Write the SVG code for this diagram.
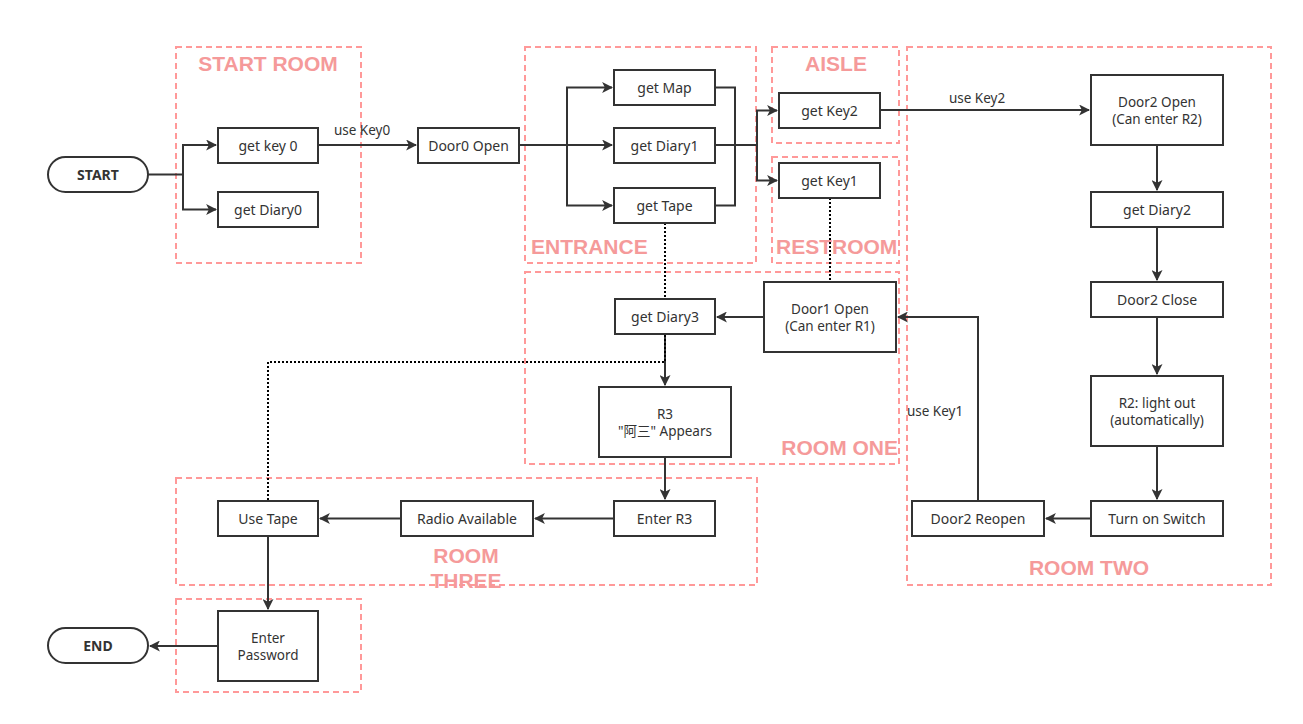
<svg xmlns="http://www.w3.org/2000/svg" width="1303" height="724" viewBox="0 0 1303 724">
<defs>
<style>
.room{fill:none;stroke:#ff9999;stroke-width:2;stroke-dasharray:6 4}
.rl{font-family:"Liberation Sans","Noto Sans",sans-serif;font-weight:bold;font-size:21px;fill:#f59a9a}
.nd{fill:#fff;stroke:#333;stroke-width:2}
.t{font-family:"Noto Sans","Noto Sans CJK SC",sans-serif;font-size:14px;fill:#333;text-anchor:middle;dominant-baseline:central}
.t2{font-family:"Noto Sans","Noto Sans CJK SC",sans-serif;font-size:13.5px;fill:#333;text-anchor:middle;dominant-baseline:central}
.tb{font-family:"Noto Sans",sans-serif;font-size:14px;font-weight:bold;fill:#333;text-anchor:middle;dominant-baseline:central}
.c{fill:none;stroke:#333;stroke-width:2}
.a{marker-end:url(#ah)}
.d{fill:none;stroke:#000;stroke-width:2;stroke-dasharray:2 2}
.lb{font-family:"Noto Sans",sans-serif;font-size:13.5px;fill:#333;text-anchor:middle}
</style>
<marker id="ah" viewBox="0 0 10 10" refX="9" refY="5" markerWidth="5.5" markerHeight="5.5" orient="auto" markerUnits="strokeWidth">
<path d="M0,0 L10,5 L0,10 L2.5,5 Z" fill="#333"/>
</marker>
</defs>
<rect width="1303" height="724" fill="#fff"/>
<g id="rooms">
<rect class="room" x="176" y="47" width="185" height="216"/>
<text class="rl" x="268" y="71" text-anchor="middle">START ROOM</text>
<rect class="room" x="525" y="47" width="231" height="216"/>
<text class="rl" x="531" y="254">ENTRANCE</text>
<rect class="room" x="772" y="47" width="127" height="96"/>
<text class="rl" x="836" y="71" text-anchor="middle">AISLE</text>
<rect class="room" x="772" y="157" width="127" height="106"/>
<text class="rl" x="776" y="254">RESTROOM</text>
<rect class="room" x="907" y="47" width="364" height="538"/>
<text class="rl" x="1089" y="575" text-anchor="middle">ROOM TWO</text>
<rect class="room" x="525" y="272" width="374" height="192"/>
<text class="rl" x="898" y="455" text-anchor="end">ROOM ONE</text>
<rect class="room" x="176" y="478" width="581" height="107"/>
<text class="rl" x="466" y="563" text-anchor="middle">ROOM</text>
<text class="rl" x="466" y="588" text-anchor="middle">THREE</text>
<rect class="room" x="176" y="599" width="185" height="93"/>
</g>
<g id="connectors">
<path class="c a" d="M148,174.5 H183 V145 H216"/>
<path class="c a" d="M183,174.5 V209.5 H216"/>
<path class="c a" d="M318,145 H416"/>
<text class="lb" x="362" y="135">use Key0</text>
<path class="c a" d="M519,145 H567 V87.5 H612"/>
<path class="c a" d="M519,145 H612"/>
<path class="c a" d="M567,145 V205.5 H612"/>
<path class="c" d="M715,87.5 H735 V205.5 H715"/>
<path class="c a" d="M715,145 H757 V110.5 H777"/>
<path class="c a" d="M757,145 V180.5 H777"/>
<path class="c a" d="M880,110 H1089"/>
<text class="lb" x="977" y="103">use Key2</text>
<path class="c a" d="M1157,145 V190"/>
<path class="c a" d="M1157,227 V280"/>
<path class="c a" d="M1157,317 V374"/>
<path class="c a" d="M1157,446 V499"/>
<path class="c a" d="M1091,518.5 H1046"/>
<path class="c a" d="M978,501 V317 H898"/>
<text class="lb" x="935" y="416">use Key1</text>
<path class="c a" d="M764,317 H717"/>
<path class="c a" d="M665,334 V385"/>
<path class="c a" d="M665,457 V499"/>
<path class="c a" d="M614,518.5 H535"/>
<path class="c a" d="M401,518.5 H320"/>
<path class="c a" d="M268,536 V609"/>
<path class="c a" d="M218,646 H150"/>
<path class="d" d="M665,223 V362 H268 V501"/>
<path class="d" d="M830,198 V282"/>
</g>
<g id="start"><rect class="nd" x="48" y="157" width="100" height="35" rx="17.5"/><text class="tb" x="98" y="174.5">START</text></g>
<g id="getkey0"><rect class="nd" x="218" y="128" width="100" height="35"/><text class="t" x="268" y="145.5">get key 0</text></g>
<g id="getdiary0"><rect class="nd" x="218" y="192" width="100" height="35"/><text class="t" x="268" y="209.5">get Diary0</text></g>
<g id="door0open"><rect class="nd" x="418" y="128" width="101" height="35"/><text class="t" x="468.5" y="145.5">Door0 Open</text></g>
<g id="getmap"><rect class="nd" x="614" y="70" width="101" height="35"/><text class="t" x="664.5" y="87.5">get Map</text></g>
<g id="getdiary1"><rect class="nd" x="614" y="128" width="101" height="35"/><text class="t" x="664.5" y="145.5">get Diary1</text></g>
<g id="gettape"><rect class="nd" x="614" y="188" width="101" height="35"/><text class="t" x="664.5" y="205.5">get Tape</text></g>
<g id="getkey2"><rect class="nd" x="779" y="93" width="101" height="35"/><text class="t" x="829.5" y="110.5">get Key2</text></g>
<g id="getkey1"><rect class="nd" x="779" y="163" width="101" height="35"/><text class="t" x="829.5" y="180.5">get Key1</text></g>
<g id="door2open"><rect class="nd" x="1091" y="75" width="132" height="70"/><text class="t2" x="1157" y="101.5">Door2 Open</text><text class="t2" x="1157" y="118.5">(Can enter R2)</text></g>
<g id="getdiary2"><rect class="nd" x="1091" y="192" width="132" height="35"/><text class="t" x="1157" y="209.5">get Diary2</text></g>
<g id="door2close"><rect class="nd" x="1091" y="282" width="132" height="35"/><text class="t" x="1157" y="299.5">Door2 Close</text></g>
<g id="r2lightout"><rect class="nd" x="1091" y="376" width="132" height="70"/><text class="t2" x="1157" y="402.5">R2: light out</text><text class="t2" x="1157" y="419.5">(automatically)</text></g>
<g id="turnonswitch"><rect class="nd" x="1091" y="501" width="132" height="35"/><text class="t" x="1157" y="518.5">Turn on Switch</text></g>
<g id="door2reopen"><rect class="nd" x="912" y="501" width="132" height="35"/><text class="t" x="978" y="518.5">Door2 Reopen</text></g>
<g id="door1open"><rect class="nd" x="764" y="282" width="132" height="70"/><text class="t2" x="830" y="308.5">Door1 Open</text><text class="t2" x="830" y="325.5">(Can enter R1)</text></g>
<g id="getdiary3"><rect class="nd" x="615" y="299" width="100" height="35"/><text class="t" x="665" y="316.5">get Diary3</text></g>
<g id="r3appears"><rect class="nd" x="599" y="387" width="132" height="70"/><text class="t2" x="665" y="413.5">R3</text><text class="t2" x="665" y="430.5">"阿三" Appears</text></g>
<g id="enterr3"><rect class="nd" x="614" y="501" width="101" height="35"/><text class="t" x="664.5" y="518.5">Enter R3</text></g>
<g id="radioavailable"><rect class="nd" x="401" y="501" width="132" height="35"/><text class="t" x="467" y="518.5">Radio Available</text></g>
<g id="usetape"><rect class="nd" x="218" y="501" width="100" height="35"/><text class="t" x="268" y="518.5">Use Tape</text></g>
<g id="enterpassword"><rect class="nd" x="218" y="611" width="100" height="70"/><text class="t2" x="268" y="637.5">Enter</text><text class="t2" x="268" y="654.5">Password</text></g>
<g id="end"><rect class="nd" x="48" y="628" width="100" height="35" rx="17.5"/><text class="tb" x="98" y="645.5">END</text></g>
</svg>
